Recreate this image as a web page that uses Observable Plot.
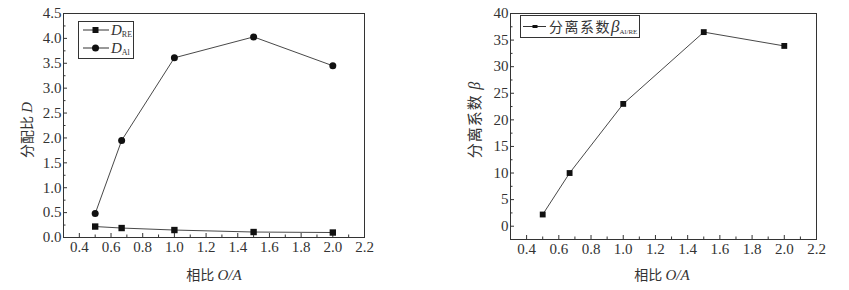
<!DOCTYPE html>
<html><head><meta charset="utf-8">
<script src="https://cdn.jsdelivr.net/npm/d3@7"></script>
<script src="https://cdn.jsdelivr.net/npm/@observablehq/plot@0.6"></script>
<style>
body{margin:0;background:#fff;}
#wrap{position:relative;width:849px;height:290px;overflow:hidden;}
#left{position:absolute;left:0;top:0;}
#right{position:absolute;left:430px;top:0;}
#wrap svg g[aria-label$="tick label"] text{font-family:"Liberation Serif","Times New Roman",serif !important;font-size:15px !important;}
</style></head><body><div id="wrap"><div id="left"></div><div id="right"></div></div>
<script>
// ---- data ----
const ratioOA = [0.5, 0.667, 1.0, 1.5, 2.0];
const dRE = [0.22, 0.19, 0.15, 0.11, 0.10];
const dAl = [0.48, 1.95, 3.61, 4.03, 3.45];
const betaAlRE = [2.2, 10.0, 23.0, 36.5, 33.9];
const xTicks = [0.4, 0.6, 0.8, 1.0, 1.2, 1.4, 1.6, 1.8, 2.0, 2.2];
const xMinor = [0.3, 0.5, 0.7, 0.9, 1.1, 1.3, 1.5, 1.7, 1.9, 2.1];
const leftYTicks = [0, 0.5, 1.0, 1.5, 2.0, 2.5, 3.0, 3.5, 4.0, 4.5];
const leftYMinor = [0.25, 0.75, 1.25, 1.75, 2.25, 2.75, 3.25, 3.75, 4.25];
const rightYTicks = [0, 5, 10, 15, 20, 25, 30, 35, 40];
const rightYMinor = [2.5, 7.5, 12.5, 17.5, 22.5, 27.5, 32.5, 37.5];

const INK = "#333";
const SERIF = "Liberation Serif, Times New Roman, Times, DejaVu Serif, serif";
const CJK = "Noto Sans CJK SC, Noto Sans, sans-serif";

function panel(o) {
  const fh = o.height - o.marginTop - o.marginBottom;
  const fw = o.width - o.marginLeft - o.marginRight;
  const marks = [
    Plot.tickX(xTicks, {x: d => d, insetTop: fh - 4, stroke: INK}),
    Plot.tickX(xMinor, {x: d => d, insetTop: fh - 2.5, stroke: INK}),
    Plot.tickY(o.yTicks, {y: d => d, insetRight: fw - 4, stroke: INK}),
    Plot.tickY(o.yMinor, {y: d => d, insetRight: fw - 2.5, stroke: INK}),
    Plot.axisX(xTicks, {tickSize: 0, tickPadding: 4, tickFormat: d3.format(".1f"), label: null, fill: INK, fontFamily: SERIF, fontSize: 15}),
    Plot.axisY(o.yTicks, {tickSize: 0, tickPadding: 2, tickFormat: o.yFormat, label: null, fill: INK, fontFamily: SERIF, fontSize: 15}),
    Plot.frame({stroke: INK, strokeWidth: 1}),
    ...o.marks
  ];
  return Plot.plot({
    width: o.width, height: o.height,
    marginLeft: o.marginLeft, marginRight: o.marginRight,
    marginTop: o.marginTop, marginBottom: o.marginBottom,
    x: {domain: [0.3, 2.2]},
    y: {domain: o.yDomain},
    style: {fontFamily: SERIF, fontSize: "15px", color: INK, background: "white"},
    marks
  });
}

function addText(sel, x, y, parts, attrs = {}) {
  const t = sel.append("text").attr("x", x).attr("y", y).attr("fill", INK).attr("text-anchor", "start");
  for (const [k, v] of Object.entries(attrs)) t.attr(k, v);
  for (const p of parts) {
    const s = t.append("tspan").text(p.t).style("font-family", p.f || CJK).style("font-size", (p.s || 14) + "px");
    if (p.i) s.style("font-style", "italic");
    if (p.dy) s.attr("dy", p.dy);
    if (p.ls != null) s.style("letter-spacing", p.ls + "px");
  }
  return t;
}

// ---- left panel ----
const rowsLeft = ratioOA.map((x, i) => ({x, re: dRE[i], al: dAl[i]}));
const left = panel({
  width: 420, height: 290, marginLeft: 63, marginRight: 56, marginTop: 13, marginBottom: 53,
  yDomain: [0, 4.5], yTicks: leftYTicks, yMinor: leftYMinor, yFormat: d3.format(".1f"),
  marks: [
    Plot.line(rowsLeft, {x: "x", y: "re", stroke: INK, strokeWidth: 0.9}),
    Plot.line(rowsLeft, {x: "x", y: "al", stroke: INK, strokeWidth: 0.9}),
    Plot.dot(rowsLeft, {x: "x", y: "re", symbol: "square", r: 3.6, fill: "#111", stroke: "none"}),
    Plot.dot(rowsLeft, {x: "x", y: "al", symbol: "circle", r: 3.5, fill: "#111", stroke: "none"})
  ]
});
document.getElementById("left").append(left);
const ls = d3.select(left);
// axis titles
addText(ls, 214, 280, [{t: "相比 "}, {t: "O/A", f: SERIF, i: true, s: 15}], {"text-anchor": "middle"});
addText(ls, 0, 0, [{t: "分配比 "}, {t: "D", f: SERIF, i: true, s: 15}],
  {"text-anchor": "middle", transform: "translate(32,130) rotate(-90)"});
// legend
const lg = ls.append("g");
lg.append("rect").attr("x", 78.5).attr("y", 21.5).attr("width", 55).attr("height", 37)
  .attr("fill", "white").attr("stroke", INK);
lg.append("line").attr("x1", 83).attr("x2", 109).attr("y1", 30).attr("y2", 30).attr("stroke", INK);
lg.append("rect").attr("x", 92.5).attr("y", 27).attr("width", 6).attr("height", 6).attr("fill", "#111");
lg.append("line").attr("x1", 83).attr("x2", 109).attr("y1", 48).attr("y2", 48).attr("stroke", INK);
lg.append("circle").attr("cx", 95.5).attr("cy", 48).attr("r", 3.5).attr("fill", "#111");
addText(lg, 111, 35, [{t: "D", f: SERIF, i: true, s: 15}, {t: "RE", f: SERIF, s: 8, dy: 2}]);
addText(lg, 111, 53, [{t: "D", f: SERIF, i: true, s: 15}, {t: "Al", f: SERIF, s: 8, dy: 2}]);

// ---- right panel ----
const rowsRight = ratioOA.map((x, i) => ({x, b: betaAlRE[i]}));
const right = panel({
  width: 419, height: 290, marginLeft: 80, marginRight: 33, marginTop: 13, marginBottom: 51,
  yDomain: [-2.5, 40], yTicks: rightYTicks, yMinor: rightYMinor, yFormat: d3.format("d"),
  marks: [
    Plot.line(rowsRight, {x: "x", y: "b", stroke: INK, strokeWidth: 0.9}),
    Plot.dot(rowsRight, {x: "x", y: "b", symbol: "square", r: 3.3, fill: "#111", stroke: "none"})
  ]
});
document.getElementById("right").append(right);
const rs = d3.select(right);
addText(rs, 232, 280, [{t: "相比 "}, {t: "O/A", f: SERIF, i: true, s: 15}], {"text-anchor": "middle"});
addText(rs, 0, 0, [{t: "分离系数 ", s: 15, ls: 1}, {t: "β", f: SERIF, i: true, s: 16}],
  {"text-anchor": "middle", transform: "translate(50,120) rotate(-90)"});
const rg = rs.append("g");
rg.append("rect").attr("x", 90.5).attr("y", 15.5).attr("width", 119).attr("height", 22)
  .attr("fill", "white").attr("stroke", INK);
rg.append("line").attr("x1", 93).attr("x2", 116).attr("y1", 26.5).attr("y2", 26.5).attr("stroke", INK);
rg.append("rect").attr("x", 102.5).attr("y", 25).attr("width", 5).attr("height", 3).attr("fill", "#111");
addText(rg, 119, 32, [{t: "分离系数", s: 14, ls: 1.5}, {t: "β", f: SERIF, i: true, s: 17}, {t: "Al/RE", f: SERIF, s: 7, dy: 2, ls: 0}]);
</script></body></html>
